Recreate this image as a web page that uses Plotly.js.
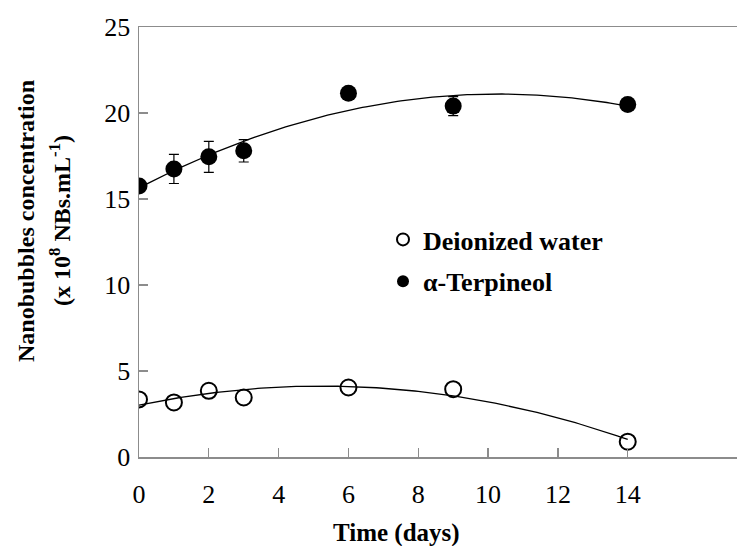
<!DOCTYPE html>
<html>
<head>
<meta charset="utf-8">
<script src="https://cdn.plot.ly/plotly-3.0.1.min.js"></script>
<style>html,body{margin:0;padding:0;background:#fff;}#chart{width:737px;height:546px;}</style>
</head>
<body>
<div id="chart"></div>
<script>
// Data
const days = [0, 1, 2, 3, 6, 9, 14];
const deionizedWater = [3.35, 3.17, 3.85, 3.46, 4.04, 3.94, 0.89];
const terpineol = [15.75, 16.75, 17.45, 17.8, 21.15, 20.4, 20.5];
const terpineolError = [0, 0.85, 0.9, 0.65, 0, 0.55, 0];
const xTicks = [0, 2, 4, 6, 8, 10, 12, 14];
const yTicks = [0, 5, 10, 15, 20, 25];
const seriesNames = ["Deionized water", "\u03B1-Terpineol"];

// 2nd-order polynomial trendline (least squares) from the data, like a spreadsheet trendline
function polyFit2(xs, ys) {
  let n = xs.length, sx=0, sx2=0, sx3=0, sx4=0, sy=0, sxy=0, sx2y=0;
  for (let i = 0; i < n; i++) {
    const x = xs[i], y = ys[i];
    sx += x; sx2 += x*x; sx3 += x*x*x; sx4 += x*x*x*x;
    sy += y; sxy += x*y; sx2y += x*x*y;
  }
  const A = [[n, sx, sx2, sy], [sx, sx2, sx3, sxy], [sx2, sx3, sx4, sx2y]];
  for (let c = 0; c < 3; c++) {
    for (let r = c + 1; r < 3; r++) {
      const f = A[r][c] / A[c][c];
      for (let k = c; k < 4; k++) A[r][k] -= f * A[c][k];
    }
  }
  const coef = [0, 0, 0];
  for (let r = 2; r >= 0; r--) {
    let s = A[r][3];
    for (let k = r + 1; k < 3; k++) s -= A[r][k] * coef[k];
    coef[r] = s / A[r][r];
  }
  return coef;
}
function trend(xs, ys) {
  const c = polyFit2(xs, ys);
  const tx = [], ty = [];
  const x0 = Math.min(...xs), x1 = Math.max(...xs);
  for (let i = 0; i <= 140; i++) {
    const x = x0 + (x1 - x0) * i / 140;
    tx.push(x); ty.push(c[0] + c[1]*x + c[2]*x*x);
  }
  return {x: tx, y: ty};
}

const tW = trend(days, deionizedWater);
const tT = trend(days, terpineol);

const serif = "Liberation Serif, Times New Roman, serif";

const traces = [
  {x: tW.x, y: tW.y, mode: "lines", line: {color: "#000", width: 1.3}, showlegend: false, hoverinfo: "skip"},
  {x: tT.x, y: tT.y, mode: "lines", line: {color: "#000", width: 1.3}, showlegend: false, hoverinfo: "skip"},
  {x: days, y: deionizedWater, mode: "markers", name: seriesNames[0], legendgroup: "a",
   marker: {symbol: "circle-open", size: 16, color: "#000", line: {width: 2, color: "#000"}}},
  {x: days, y: terpineol, mode: "markers", name: seriesNames[1], legendgroup: "b",
   marker: {symbol: "circle", size: 17, color: "#000"},
   error_y: {type: "data", array: terpineolError, visible: true, color: "#000", thickness: 1.2, width: 5}}
];

const axisCommon = {
  showline: true, linecolor: "#8c8c8c", linewidth: 1.5,
  ticks: "inside", ticklen: 9, tickcolor: "#8c8c8c", tickwidth: 1.3,
  showgrid: false, zeroline: false,
  tickfont: {family: serif, size: 26, color: "#000"}
};

const layout = {
  width: 737, height: 546,
  margin: {l: 139, r: 0, t: 27, b: 89, pad: 0},
  paper_bgcolor: "#fff", plot_bgcolor: "#fff",
  showlegend: true,
  legend: {
    x: (383 - 139) / 598, xanchor: "left",
    y: (457 - 216) / 430, yanchor: "top",
    font: {family: serif, size: 26, color: "#000", weight: "bold"},
    itemsizing: "constant", traceorder: "grouped", tracegroupgap: 5,
    bgcolor: "rgba(0,0,0,0)", borderwidth: 0
  },
  xaxis: Object.assign({}, axisCommon, {
    range: [0, 17.13], tickvals: xTicks, ticktext: xTicks.map(String),
    mirror: true, ticklabelstandoff: 13
  }),
  yaxis: Object.assign({}, axisCommon, {
    range: [0, 25], tickvals: yTicks, ticktext: yTicks.map(String),
    ticklabelstandoff: 2
  }),
  annotations: [
    {text: "<b>Time (days)</b>", xref: "paper", yref: "paper",
     x: (396 - 139) / 598, y: (457 - 533) / 430, xanchor: "center", yanchor: "middle",
     showarrow: false, font: {family: serif, size: 25, color: "#000"}},
    {text: "<b>Nanobubbles concentration</b>", xref: "paper", yref: "paper",
     x: (26 - 139) / 598, y: (457 - 221) / 430, xanchor: "center", yanchor: "middle",
     textangle: -90, showarrow: false, font: {family: serif, size: 24, color: "#000"}},
    {text: "<b>(x 10<sup>8</sup> NBs.mL<sup>-1</sup>)</b>", xref: "paper", yref: "paper",
     x: (60 - 139) / 598, y: (457 - 221) / 430, xanchor: "center", yanchor: "middle",
     textangle: -90, showarrow: false, font: {family: serif, size: 24, color: "#000"}}
  ]
};

Plotly.newPlot("chart", traces, layout, {displayModeBar: false, staticPlot: true});
</script>
</body>
</html>
